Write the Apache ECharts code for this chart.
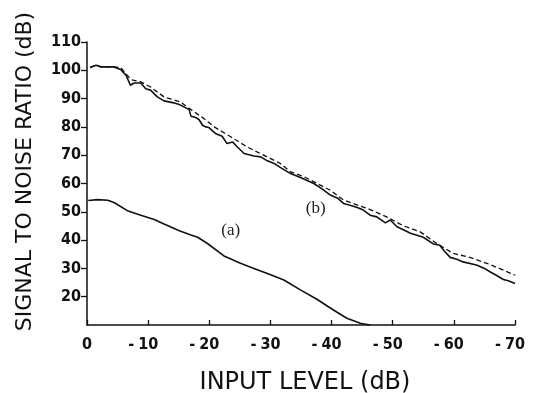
<!DOCTYPE html>
<html><head><meta charset="utf-8">
<script src="https://cdn.jsdelivr.net/npm/echarts@6/dist/echarts.min.js"></script>
<style>html,body{margin:0;padding:0;background:#fff}#c{width:535px;height:393px}</style>
</head><body><div id="c"></div>
<script>
// Data (x = input level dB, y = S/N ratio dB)
const bSolidX = [-0.5,-1.5,-2.3,-4.4,-5.5,-6.4,-7.1,-7.7,-8.8,-9.6,-10.4,-11.5,-12.6,-14.2,-15.3,-16.7,-17.0,-17.8,-18.3,-18.9,-19.4,-19.9,-21.0,-22.1,-22.9,-23.8,-24.6,-25.7,-27.3,-28.4,-29.5,-30.6,-31.6,-33.3,-35.0,-37.1,-38.5,-39.8,-41.0,-42.0,-43.0,-44.2,-45.2,-46.3,-47.4,-48.8,-49.6,-50.7,-52.0,-52.9,-55.0,-56.7,-57.7,-58.5,-59.4,-60.5,-61.5,-63.7,-65.0,-65.9,-67.0,-68.1,-68.9,-70.0];
const bSolidY = [101.0,101.8,101.2,101.2,100.3,98.2,94.7,95.5,95.5,93.5,93.0,90.6,89.2,88.5,87.7,86.1,83.8,83.3,82.6,80.6,80.0,79.8,77.7,76.7,74.1,74.7,72.9,70.6,69.7,69.4,68.0,67.1,65.7,63.5,62.0,60.0,58.0,55.9,54.8,52.9,52.3,51.5,50.6,48.8,48.2,46.1,47.1,44.7,43.4,42.4,41.0,38.6,38.2,36.0,33.9,33.2,32.3,31.2,30.0,28.8,27.5,26.1,25.6,24.7];
const bDashX = [-0.5,-1.5,-2.3,-4.4,-5.5,-7.2,-8.8,-10.4,-12.6,-15.3,-17.0,-19.1,-20.8,-23.5,-26.2,-28.9,-31.6,-33.3,-35.5,-39.8,-42.0,-46.3,-49.0,-51.8,-54.5,-57.2,-59.9,-62.6,-65.4,-68.1,-70.0];
const bDashY = [101.0,101.8,101.2,101.2,101.0,96.7,95.9,94.1,90.6,88.8,86.1,83.0,80.0,76.5,72.9,70.0,67.1,64.1,62.4,57.6,54.1,50.8,48.2,45.0,42.9,38.8,35.3,33.9,31.8,29.4,27.6];
const aX = [-0.2,-1.7,-3.4,-4.5,-6.6,-8.8,-11.0,-12.6,-15.1,-17.0,-18.1,-19.7,-22.4,-25.1,-27.3,-29.5,-32.2,-34.9,-37.6,-40.3,-42.5,-44.7,-46.3];
const aY = [54.0,54.3,54.1,53.2,50.4,48.8,47.3,45.7,43.3,41.8,41.0,38.8,34.4,31.8,30.0,28.2,25.9,22.4,19.1,15.3,12.4,10.6,10.0];
const xTicks = [0,-10,-20,-30,-40,-50,-60,-70];
const yTicks = [20,30,40,50,60,70,80,90,100,110];
const annotations = [{text:'(a)', x:-23.5, y:43.5},{text:'(b)', x:-37.4, y:51.3}];

const zip = (xs, ys) => xs.map((x, i) => [x, ys[i]]);
const chart = echarts.init(document.getElementById('c'));
const tickFont = {fontFamily:"'DejaVu Sans Condensed', 'DejaVu Sans', sans-serif", fontWeight:'bold', fontSize:16, color:'#111'};
const nameFont = "'DejaVu Sans', sans-serif";
chart.setOption({
  animation:false,
  grid:{left:87, right:20, top:42, bottom:68, outerBoundsMode:'none', containLabel:false},
  xAxis:{type:'value', min:-70, max:0, interval:10, inverse:true,
    name:'INPUT LEVEL (dB)', nameLocation:'middle', nameGap:46,
    nameTextStyle:{fontFamily:nameFont, fontSize:24, color:'#111', padding:[0,0,0,8]},
    axisLine:{lineStyle:{color:'#111', width:1.5}},
    axisTick:{inside:true, length:5, lineStyle:{color:'#111', width:1.3}},
    splitLine:{show:false},
    axisLabel:Object.assign({margin:12,
      formatter:v => xTicks.indexOf(v) < 0 ? '' : (v === 0 ? '{n|0}' : '{m|-}{n|' + Math.abs(v) + '}{p|}'),
      rich:{m:Object.assign({width:10, align:'left'}, tickFont), n:tickFont, p:{width:10}}}, tickFont)
  },
  yAxis:{type:'value', min:10, max:110, interval:10,
    name:'SIGNAL TO NOISE RATIO (dB)', nameLocation:'middle', nameGap:51,
    nameTextStyle:{fontFamily:nameFont, fontSize:22, color:'#111', padding:[0,0,0,24]},
    axisLine:{show:true, lineStyle:{color:'#111', width:1.5}},
    axisTick:{show:true, length:6, lineStyle:{color:'#111', width:1.3}},
    splitLine:{show:false},
    axisLabel:Object.assign({margin:6, showMinLabel:false,
      formatter:v => yTicks.indexOf(v) >= 0 ? String(v) : ''}, tickFont)
  },
  series:[
    {type:'line', data:zip(bDashX, bDashY), showSymbol:false, lineStyle:{color:'#111', width:1.3, type:[5,3]}},
    {type:'line', data:zip(bSolidX, bSolidY), showSymbol:false, lineStyle:{color:'#111', width:1.6},
      markPoint:{symbol:'circle', symbolSize:0, silent:true,
        label:{show:true, position:'inside', fontFamily:'Liberation Serif', fontSize:17, color:'#222',
          formatter:p => p.name},
        data:annotations.map(a => ({name:a.text, coord:[a.x, a.y]}))}},
    {type:'line', data:zip(aX, aY), showSymbol:false, lineStyle:{color:'#111', width:1.6}}
  ]
});
</script></body></html>
